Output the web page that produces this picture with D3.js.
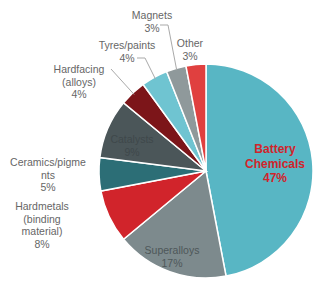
<!DOCTYPE html>
<html>
<head>
<meta charset="utf-8">
<script src="https://cdn.jsdelivr.net/npm/d3@7"></script>
<style>
  body { margin: 0; background: #fff; }
  svg { display: block; font-family: Arial, "Liberation Sans", sans-serif; }
</style>
</head>
<body>
<script>
// data
const categories = ["Battery Chemicals", "Superalloys", "Hardmetals (binding material)", "Ceramics/pigments",
  "Catalysts", "Hardfacing (alloys)", "Tyres/paints", "Magnets", "Other"];
const values = [47, 17, 8, 5, 9, 4, 4, 3, 3];
const labelLines = [
  ["Battery", "Chemicals", "47%"],
  ["Superalloys", "17%"],
  ["Hardmetals", "(binding", "material)", "8%"],
  ["Ceramics/pigme", "nts", "5%"],
  ["Catalysts", "9%"],
  ["Hardfacing", "(alloys)", "4%"],
  ["Tyres/paints", "4%"],
  ["Magnets", "3%"],
  ["Other", "3%"]
];

// styles / layout
const colors = ["#58b6c4", "#7d8a8d", "#d1242b", "#2c6e76", "#4b5659", "#7c1519", "#6fc4d1", "#8f999b", "#e0403f"];
const textColors = ["#d1242b", "#4e5759", "#666", "#666", "#3f484b", "#666", "#666", "#666", "#666"];
// label anchor (x, first line y) and optional leader start points
const labelPos = [
  {x: 275, y: 149, bold: true},
  {x: 172, y: 250},
  {x: 42, y: 206},
  {x: 48, y: 162},
  {x: 132, y: 139},
  {x: 79, y: 69, leader: [[111, 69]]},
  {x: 127, y: 45, leader: [[137, 58], [145, 58]]},
  {x: 152, y: 15, leader: [[160, 25], [168, 25]]},
  {x: 190, y: 43}
];

const width = 313, height = 281;
const cx = 206, cy = 171, radius = 107;
const lineH = 12.5;

const svg = d3.select("body").append("svg")
  .attr("width", width)
  .attr("height", height);

const g = svg.append("g").attr("transform", `translate(${cx},${cy})`);

const pie = d3.pie().sort(null).value(d => d);
const arcs = pie(values);
const arc = d3.arc().innerRadius(0).outerRadius(radius);

g.selectAll("path")
  .data(arcs)
  .enter()
  .append("path")
  .attr("d", arc)
  .attr("fill", (d, i) => colors[i])
  .attr("stroke", "#fff")
  .attr("stroke-width", 1.5);

// leader lines from label to slice edge
const edge = d3.arc().innerRadius(radius - 2).outerRadius(radius - 2);
arcs.forEach((d, i) => {
  const p = labelPos[i];
  if (!p.leader) return;
  const a = (d.startAngle + d.endAngle) / 2;
  const end = [cx + (radius - 2) * Math.sin(a), cy - (radius - 2) * Math.cos(a)];
  svg.append("path")
    .attr("d", d3.line()(p.leader.concat([end])))
    .attr("fill", "none")
    .attr("stroke", "#a9a9a9")
    .attr("stroke-width", 1);
});

// labels
const labels = svg.selectAll("text.lbl")
  .data(arcs)
  .enter()
  .append("text")
  .attr("class", "lbl")
  .attr("text-anchor", "middle")
  .attr("font-size", 10.5)
  .attr("font-weight", (d, i) => labelPos[i].bold ? "bold" : "normal")
  .attr("fill", (d, i) => textColors[i]);

labels.each(function(d, i) {
  const p = labelPos[i];
  const t = d3.select(this);
  labelLines[i].forEach((line, j) => {
    t.append("tspan")
      .attr("x", p.x)
      .attr("y", p.y + j * (p.bold ? 14.5 : lineH) + 4)
      .attr("font-size", p.bold ? 12 : 10.5)
      .text(line);
  });
});
</script>
</body>
</html>
